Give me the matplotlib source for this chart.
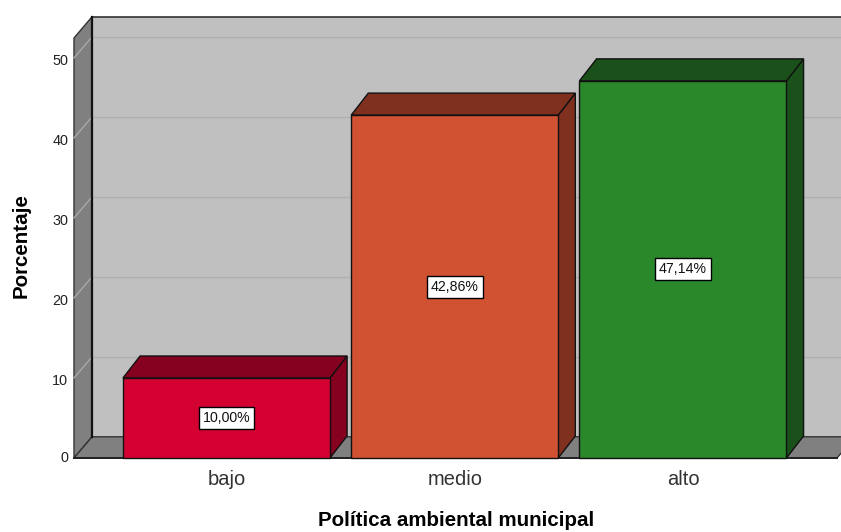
import matplotlib.pyplot as plt
import matplotlib.patches as patches

categories = ["bajo", "medio", "alto"]
values = [10.00, 42.86, 47.14]
labels = ["10,00%", "42,86%", "47,14%"]
front_colors = ["#d50032", "#d05232", "#2a882a"]
dark_colors = ["#86001f", "#80301f", "#1a501a"]
yticks = [0, 10, 20, 30, 40, 50]

plt.rcParams["font.family"] = ["Liberation Sans", "DejaVu Sans"]

W, H = 841, 532
fig = plt.figure(figsize=(W / 100, H / 100), dpi=100)
# axes covers the front plane of the 3D box
ax = fig.add_axes([74 / W, (H - 458) / H, (837 - 74) / W, (458 - 38) / H])
x0, x1 = -0.668, 2.675
ytop = 52.5
ax.set_xlim(x0, x1)
ax.set_ylim(0, ytop)
for s in ax.spines.values():
    s.set_visible(False)
ax.set_xticks([])
ax.set_yticks([])

dx, dy = 0.079, 2.65   # depth offset in data units
wall_dark = "#808080"
wall_back = "#c0c0c0"
grid_c = "#b0b0b0"

def poly(pts, fc, ec="black", lw=1.0, z=1):
    ax.add_patch(patches.Polygon(pts, closed=True, facecolor=fc, edgecolor=ec,
                                 linewidth=lw, zorder=z, clip_on=False))

# back wall
poly([(x0 + dx, dy), (x1 + 1, dy), (x1 + 1, ytop + dy), (x0 + dx, ytop + dy)],
     wall_back, ec="none", z=1)
ax.plot([x0 + dx, x1 + 1], [ytop + dy, ytop + dy], color="#333333", lw=1.2,
        zorder=2, clip_on=False)
# side wall
poly([(x0, 0), (x0 + dx, dy), (x0 + dx, ytop + dy), (x0, ytop)], wall_dark,
     ec="#333333", lw=1.0, z=2)
# floor
poly([(x0, 0), (x1, 0), (x1 + dx, dy), (x0 + dx, dy)], wall_dark,
     ec="#333333", lw=1.0, z=2)
ax.plot([x0 + dx, x0 + dx], [dy, ytop + dy], color="#111111", lw=1.6,
        zorder=4, clip_on=False)
ax.plot([x0, x1], [0, 0], color="#222222", lw=1.4, zorder=4, clip_on=False)

# gridlines on walls
for v in yticks[1:]:
    ax.plot([x0 + dx, x1 + 1], [v + dy, v + dy], color=grid_c, lw=1.0,
            zorder=3, clip_on=False)
    ax.plot([x0, x0 + dx], [v, v + dy], color="#a8a8a8", lw=1.0,
            zorder=3, clip_on=False)
for v in yticks:
    ax.text(x0 - 0.025, v - (0 if v == 0 else 0.35), str(v), ha="right",
            va="center", fontsize=10.4, color="#222222")

# bars
bw = 0.907
bdx, bdy = 0.075, 2.75
for i, (val, fc, dc) in enumerate(zip(values, front_colors, dark_colors)):
    l, r = i - bw / 2, i + bw / 2
    poly([(l, 0), (r, 0), (r + bdx, bdy), (r + bdx, val + bdy), (r, val)], dc,
         ec="#111111", lw=1.0, z=5)
    poly([(l, val), (r, val), (r + bdx, val + bdy), (l + bdx, val + bdy)], dc,
         ec="#111111", lw=1.0, z=5)
    poly([(l, 0), (r, 0), (r, val), (l, val)], fc, ec="#111111", lw=1.0, z=6)
    ax.text(i, val / 2, labels[i], ha="center", va="center", fontsize=10.2,
            zorder=7, color="#111111",
            bbox=dict(boxstyle="square,pad=0.28", facecolor="white",
                      edgecolor="black", linewidth=1.0))
    ax.text(i, -2.65, categories[i], ha="center", va="center", fontsize=14.5,
            color="#333333")

fig.text(456 / W, 1 - 521 / H, "Política ambiental municipal", ha="center",
         va="center", fontsize=14.8, fontweight="bold")
fig.text(21 / W, 1 - 246 / H, "Porcentaje", ha="center", va="center",
         rotation=90, fontsize=14.8, fontweight="bold")

fig.savefig("out.png", dpi=100)
